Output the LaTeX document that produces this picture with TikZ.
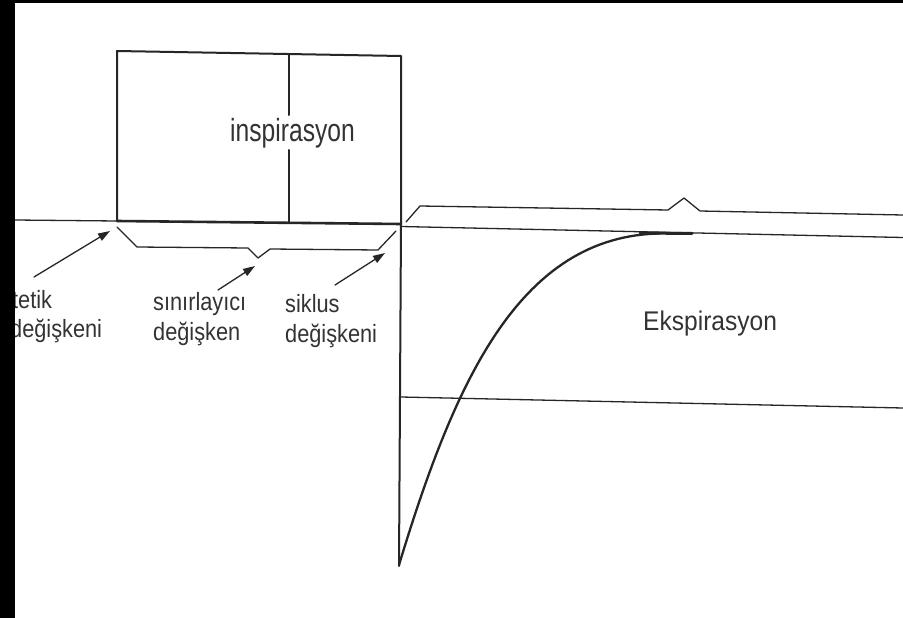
\documentclass[tikz,border=0pt]{standalone}
\usepackage{fontspec}
\setmainfont{Liberation Sans}
\usetikzlibrary{arrows.meta}
\newcommand\cond[2]{\scalebox{#1}[1]{#2}}
\definecolor{ink}{HTML}{262626}
\definecolor{txt}{HTML}{333333}
\begin{document}
\begin{tikzpicture}[x=1pt,y=-1pt,line join=round,line cap=round,
  thinln/.style={draw=ink,line width=1.3pt},
  boxln/.style={draw=ink,line width=2pt},
  baseln/.style={draw=ink,line width=2.6pt},
  curveln/.style={draw=ink,line width=2.3pt},
  arr/.style={draw=ink,line width=1.3pt,-{Triangle[length=12pt,width=8pt]}},
  lbl/.style={inner sep=0pt,anchor=base west,text=txt,font=\fontsize{25}{30}\selectfont},
  big/.style={inner sep=0pt,anchor=base west,text=txt}]
\useasboundingbox (0,0) rectangle (903,618);
\fill[white] (0,0) rectangle (903,618);

% coordinates
\coordinate (L0) at (15,220);
\coordinate (BL) at (117,221);
\coordinate (TL) at (117,51);
\coordinate (TR) at (401,56);
\coordinate (BR) at (401,224);
\coordinate (RB) at (401,226.5);
\coordinate (DivT) at (289,54);
\coordinate (DivA) at (289,115);
\coordinate (DivB) at (289,150);
\coordinate (DivBot) at (289,222);
\coordinate (RE) at (903,237.5);
\coordinate (VB) at (399,566);
\coordinate (HL) at (401,397);
\coordinate (HR) at (903,408);

% base line and inspiration box
\draw[thinln] (L0) -- (BL);
\draw[boxln] (BL) -- (TL) -- (TR) -- (BR);
\draw[baseln] (BL) -- (BR);
\draw[boxln] (DivT) -- (DivA);
\draw[boxln] (DivB) -- (DivBot);
\draw[thinln] (RB) -- (RE);
\draw[boxln] (BR) -- (VB);
\draw[thinln] (HL) -- (HR);

% expiration curve
\coordinate (C0) at (399,565);
\coordinate (C1) at (660,233.5);
\draw[curveln] (C0) .. controls (455,380) and (520,236) .. (C1);
\draw[draw=ink,line width=3pt] (640,233) -- (692,233.5);

% braces
\draw[thinln] (117,227) -- (137,247) -- (248,248) -- (258,258) -- (270,249) -- (378,250) -- (396,231);
\draw[thinln] (406,222) -- (420,206) -- (668,210) -- (684,198) -- (700,211) -- (903,215);

% texts
\node[big,font=\fontsize{32}{36}\selectfont] (insp) at (230,142) {\cond{0.77}{inspirasyon}};
\node[big,font=\fontsize{27}{32}\selectfont] (eksp) at (643,330) {\cond{0.91}{Ekspirasyon}};
\node[lbl] (tetik) at (12,308) {\cond{0.87}{tetik}};
\node[lbl] (tetikb) at (10,337) {\cond{0.87}{değişkeni}};
\node[lbl] (sinir) at (153,310) {\cond{0.87}{sınırlayıcı}};
\node[lbl] (sinirb) at (153,340) {\cond{0.87}{değişken}};
\node[lbl] (siklus) at (285,312) {\cond{0.87}{siklus}};
\node[lbl] (siklusb) at (285,342) {\cond{0.87}{değişkeni}};

% arrows
\coordinate (a1t) at (34,277);
\coordinate (a1h) at (110,231);
\coordinate (a2t) at (218,290);
\coordinate (a2h) at (255,266);
\coordinate (a3t) at (335,285);
\coordinate (a3h) at (385,253);
\draw[arr] (a1t) -- (a1h);
\draw[arr] (a2t) -- (a2h);
\draw[arr] (a3t) -- (a3h);

% black frame strips
\fill[black] (0,0) rectangle (15,618);
\fill[black] (0,0) rectangle (903,3);
\end{tikzpicture}
\end{document}
